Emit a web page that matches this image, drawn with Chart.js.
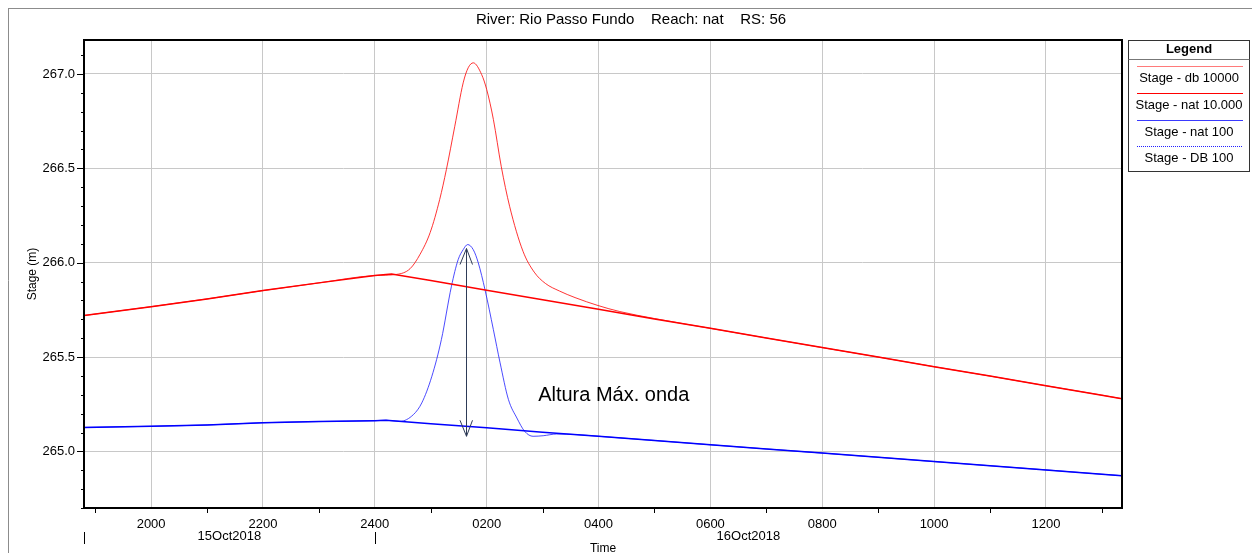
<!DOCTYPE html>
<html>
<head>
<meta charset="utf-8">
<script src="https://cdn.jsdelivr.net/npm/chart.js@4.4.1/dist/chart.umd.min.js"></script>
<style>
  html, body { margin: 0; padding: 0; background: #fff; }
  #wrap { width: 1252px; height: 553px; }
</style>
</head>
<body>
<div id="wrap"><canvas id="stageChart" width="1252" height="553"></canvas></div>
<script>
// hours counted from 15Oct2018 0000 (24 = midnight, 26 = 0200 on 16Oct)
const timeMin = 18.8;
const timeMax = 37.36;
const timeTicks = [20, 22, 24, 26, 28, 30, 32, 34, 36];
const timeLabels = ['2000', '2200', '2400', '0200', '0400', '0600', '0800', '1000', '1200'];
const minorTimeTicks = [19, 21, 23, 25, 27, 29, 31, 33, 35, 37];
const dayLabels = ['15Oct2018', '16Oct2018'];
const dayBreaks = [18.8, 24, 37.36];

const stageMin = 264.7;
const stageMax = 267.18;
const stageTicks = [265.0, 265.5, 266.0, 266.5, 267.0];

const seriesNames = ['Stage - db 10000', 'Stage - nat 10.000', 'Stage - nat 100', 'Stage - DB 100'];

// Stage - nat 10.000
const redNatHours = [18.8, 20, 21, 22, 23, 24, 24.3, 25, 26, 27, 28, 29, 30, 31, 32, 33, 34, 35, 36, 37, 37.36];
const redNatStage = [265.720, 265.767, 265.808, 265.852, 265.893, 265.932, 265.940, 265.905, 265.854, 265.803,
                     265.753, 265.702, 265.652, 265.601, 265.550, 265.500, 265.449, 265.399, 265.348, 265.298, 265.279];

// Stage - db 10000
const redDbHours = [18.8, 20, 21, 22, 23, 24, 24.39, 24.63, 24.81, 24.99, 25.16, 25.28, 25.43, 25.58, 25.67, 25.76,
                    25.91, 26.0, 26.12, 26.26, 26.41, 26.65, 26.85, 27.05, 27.3, 27.58, 27.99, 28.38, 29,
                    30, 31, 32, 33, 34, 35, 36, 37, 37.36];
const redDbStage = [265.720, 265.767, 265.808, 265.852, 265.893, 265.932, 265.938, 265.968, 266.045, 266.160,
                    266.335, 266.494, 266.723, 266.953, 267.033, 267.059, 266.997, 266.918, 266.759, 266.511,
                    266.299, 266.060, 265.950, 265.890, 265.850, 265.815, 265.773, 265.741, 265.704,
                    265.652, 265.601, 265.550, 265.500, 265.449, 265.399, 265.348, 265.298, 265.279];

// Stage - nat 100
const blueNatHours = [18.8, 20, 21, 22, 23, 24, 24.2, 25, 26, 27, 28, 29, 30, 31, 32, 33, 34, 35, 36, 37, 37.36];
const blueNatStage = [265.127, 265.133, 265.140, 265.152, 265.158, 265.163, 265.165, 265.147, 265.125, 265.102,
                      265.080, 265.058, 265.035, 265.013, 264.991, 264.969, 264.946, 264.924, 264.902, 264.879, 264.871];

// Stage - DB 100
const blueDbHours = [18.8, 20, 21, 22, 23, 24, 24.2, 24.45, 24.69, 24.84, 25.02, 25.19, 25.37, 25.49, 25.58, 25.66,
                     25.76, 25.85, 25.97, 26.12, 26.24, 26.39, 26.54, 26.68, 26.83, 27.01, 27.25, 27.6,
                     28, 29, 30, 31, 32, 33, 34, 35, 36, 37, 37.36];
const blueDbStage = [265.127, 265.133, 265.140, 265.152, 265.158, 265.163, 265.165, 265.159, 265.195, 265.257,
                     265.398, 265.592, 265.875, 266.016, 266.069, 266.096, 266.069, 265.999, 265.857, 265.645,
                     265.469, 265.274, 265.177, 265.106, 265.080, 265.083, 265.092, 265.089,
                     265.080, 265.058, 265.035, 265.013, 264.991, 264.969, 264.946, 264.924, 264.902, 264.879, 264.871];

// annotation (arrow between base and peak of the 100 wave)
const arrowHour = 25.63;
const arrowTop = 266.075;
const arrowBottom = 265.080;
const noteText = 'Altura Máx. onda';
const noteHour = 26.92;
const noteStage = 265.295;

const chartTitle = 'River: Rio Passo Fundo    Reach: nat    RS: 56';
const FONT = 'Arial, "Liberation Sans", Helvetica, sans-serif';

const seriesColors = ['rgba(255,0,0,0.8)', '#ff0000', '#0000ff', 'rgba(30,30,255,0.8)'];
const legendColors = ['#ff7a7a', '#ff0000', '#3a3aff', '#2020ff'];

function toPoints(hours, stage) {
    return hours.map((h, i) => ({ x: h, y: stage[i] }));
}

function line(ctx, x1, y1, x2, y2) {
    ctx.beginPath();
    ctx.moveTo(x1, y1);
    ctx.lineTo(x2, y2);
    ctx.stroke();
}

// Extras HEC-RAS style: frame, ticks, day row, legend, arrow
const hecPlugin = {
    id: 'hecExtras',
    afterDraw(chart) {
        const ctx = chart.ctx;
        const a = chart.chartArea;
        const xs = chart.scales.x;
        const ys = chart.scales.y;
        ctx.save();

        // outer window border
        ctx.strokeStyle = '#8c8c8c';
        ctx.lineWidth = 1;
        line(ctx, 8.5, 8, 8.5, 553);
        line(ctx, 8, 8.5, 1252, 8.5);

        // plot frame
        ctx.strokeStyle = '#000';
        ctx.lineWidth = 2;
        ctx.strokeRect(a.left, a.top, a.right - a.left, a.bottom - a.top);

        // y ticks (major 7px, minor 3px every 0.1)
        ctx.lineWidth = 1;
        for (let k = Math.ceil(stageMin * 10); k <= Math.floor(stageMax * 10); k++) {
            const py = Math.round(ys.getPixelForValue(k / 10)) + 0.5;
            const len = (k % 5 === 0) ? 7 : 3;
            line(ctx, a.left - len, py, a.left, py);
        }
        // x minor ticks
        minorTimeTicks.forEach(h => {
            const px = Math.round(xs.getPixelForValue(h)) + 0.5;
            line(ctx, px, a.bottom, px, a.bottom + 5);
        });

        // day row
        ctx.fillStyle = '#000';
        ctx.font = '13px ' + FONT;
        ctx.textAlign = 'center';
        ctx.textBaseline = 'middle';
        for (let i = 0; i < dayLabels.length; i++) {
            const l = xs.getPixelForValue(dayBreaks[i]);
            const r = xs.getPixelForValue(dayBreaks[i + 1]);
            ctx.fillText(dayLabels[i], (l + r) / 2, 536);
            const bx = Math.round(l) + 0.5;
            line(ctx, bx, 532, bx, 544);
        }
        ctx.font = '12px ' + FONT;
        ctx.fillText('Time', (a.left + a.right) / 2, 549);

        // title
        ctx.font = '15px ' + FONT;
        ctx.fillText(chartTitle, 631, 20);

        // y axis title
        ctx.save();
        ctx.translate(33, (a.top + a.bottom) / 2);
        ctx.rotate(-Math.PI / 2);
        ctx.font = '12px ' + FONT;
        ctx.fillText('Stage (m)', 0, 0);
        ctx.restore();

        // arrow annotation
        const ax = Math.round(xs.getPixelForValue(arrowHour)) + 0.5;
        const at = ys.getPixelForValue(arrowTop);
        const ab = ys.getPixelForValue(arrowBottom);
        ctx.strokeStyle = '#2e3b57';
        ctx.lineWidth = 1;
        line(ctx, ax, at, ax, ab);
        line(ctx, ax, at, ax - 6.5, at + 16);
        line(ctx, ax, at, ax + 6, at + 16);
        line(ctx, ax, ab, ax - 6.5, ab - 16);
        line(ctx, ax, ab, ax + 6, ab - 16);
        ctx.fillStyle = '#000';
        ctx.font = '20px ' + FONT;
        ctx.textAlign = 'left';
        ctx.fillText(noteText, xs.getPixelForValue(noteHour), ys.getPixelForValue(noteStage));

        // legend box
        const lx = 1128.5, ly = 40.5, lw = 121, lh = 131;
        ctx.strokeStyle = '#333';
        ctx.strokeRect(lx, ly, lw, lh);
        ctx.strokeStyle = '#777';
        line(ctx, lx, 59.5, lx + lw, 59.5);
        ctx.textAlign = 'center';
        ctx.font = 'bold 13px ' + FONT;
        ctx.fillText('Legend', lx + lw / 2, 49);
        ctx.font = '13px ' + FONT;
        const sampleY = [66.5, 93.5, 120.5, 146.5];
        const textY = [78.5, 105.5, 132.5, 158.5];
        seriesNames.forEach((name, i) => {
            ctx.strokeStyle = legendColors[i];
            ctx.setLineDash(i === 3 ? [1, 1] : []);
            line(ctx, 1137, sampleY[i], 1243, sampleY[i]);
            ctx.setLineDash([]);
            ctx.fillText(name, lx + lw / 2, textY[i]);
        });

        ctx.restore();
    }
};

const ctxStage = document.getElementById('stageChart').getContext('2d');
new Chart(ctxStage, {
    type: 'line',
    data: {
        datasets: [
            { label: seriesNames[0], data: toPoints(redDbHours, redDbStage), borderColor: seriesColors[0],
              borderWidth: 1, pointRadius: 0, cubicInterpolationMode: 'monotone' },
            { label: seriesNames[1], data: toPoints(redNatHours, redNatStage), borderColor: seriesColors[1],
              borderWidth: 1.5, pointRadius: 0 },
            { label: seriesNames[2], data: toPoints(blueNatHours, blueNatStage), borderColor: seriesColors[2],
              borderWidth: 1.5, pointRadius: 0 },
            { label: seriesNames[3], data: toPoints(blueDbHours, blueDbStage), borderColor: seriesColors[3],
              borderWidth: 1, pointRadius: 0, cubicInterpolationMode: 'monotone' }
        ]
    },
    options: {
        responsive: false,
        animation: false,
        layout: { padding: { left: 0, top: 40, right: 130, bottom: 0 } },
        plugins: {
            legend: { display: false },
            tooltip: { enabled: false }
        },
        scales: {
            x: {
                type: 'linear',
                min: timeMin,
                max: timeMax,
                afterFit: s => { s.height = 45; },
                afterBuildTicks: s => { s.ticks = timeTicks.map(v => ({ value: v })); },
                ticks: {
                    callback: v => timeLabels[timeTicks.indexOf(v)],
                    font: { family: FONT, size: 13 },
                    color: '#000',
                    maxRotation: 0,
                    autoSkip: false,
                    padding: 9
                },
                grid: { color: '#c8c8c8', drawTicks: false },
                border: { display: false }
            },
            y: {
                type: 'linear',
                min: stageMin,
                max: stageMax,
                afterFit: s => { s.width = 84; },
                afterBuildTicks: s => { s.ticks = stageTicks.map(v => ({ value: v })); },
                ticks: {
                    callback: v => v.toFixed(1),
                    font: { family: FONT, size: 13 },
                    color: '#000',
                    padding: 9
                },
                grid: { color: '#c8c8c8', drawTicks: false },
                border: { display: false }
            }
        }
    },
    plugins: [hecPlugin]
});
</script>
</body>
</html>
